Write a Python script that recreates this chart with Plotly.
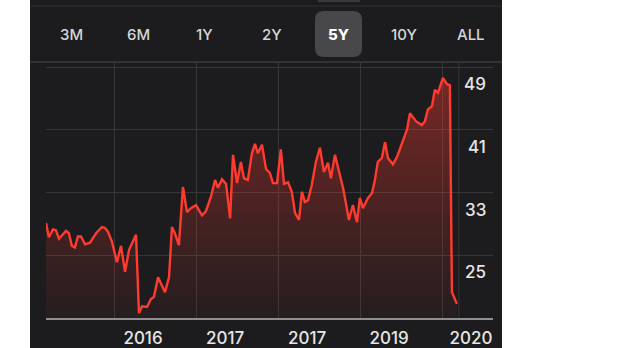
import plotly.graph_objects as go

# ---- data ----
dates = [
    "2015-03-04", "2015-03-17", "2015-04-04", "2015-04-17", "2015-05-01", "2015-06-01",
    "2015-06-14", "2015-06-27", "2015-07-11", "2015-07-24", "2015-08-07", "2015-08-25",
    "2015-09-16", "2015-10-13", "2015-11-08", "2015-11-21", "2015-12-05", "2015-12-23",
    "2016-01-14", "2016-02-01", "2016-02-19", "2016-03-08", "2016-04-08", "2016-04-21",
    "2016-05-05", "2016-05-27", "2016-06-13", "2016-06-27", "2016-07-15", "2016-08-01",
    "2016-08-15", "2016-09-02", "2016-09-15", "2016-09-28", "2016-10-16", "2016-11-03",
    "2016-11-21", "2016-12-09", "2016-12-31", "2017-01-27", "2017-02-13", "2017-03-08",
    "2017-03-26", "2017-04-08", "2017-04-26", "2017-05-14", "2017-06-01", "2017-06-14",
    "2017-07-02", "2017-07-19", "2017-08-02", "2017-08-19", "2017-09-06", "2017-09-20",
    "2017-10-03", "2017-10-21", "2017-11-08", "2017-11-25", "2017-12-09", "2017-12-27",
    "2018-01-13", "2018-01-27", "2018-02-14", "2018-03-03", "2018-03-17", "2018-04-04",
    "2018-04-17", "2018-04-30", "2018-05-14", "2018-05-31", "2018-06-18", "2018-07-06",
    "2018-07-24", "2018-08-11", "2018-08-24", "2018-09-11", "2018-10-03", "2018-10-17",
    "2018-11-03", "2018-11-12", "2018-11-30", "2018-12-18", "2018-12-31", "2019-01-14",
    "2019-02-05", "2019-02-23", "2019-03-08", "2019-03-21", "2019-04-08", "2019-04-22",
    "2019-05-05", "2019-05-27", "2019-06-14", "2019-07-06", "2019-07-29", "2019-08-11",
    "2019-09-07", "2019-10-03", "2019-10-17", "2019-10-30", "2019-11-17", "2019-11-30",
    "2019-12-14", "2020-01-05", "2020-01-23", "2020-02-05", "2020-02-14", "2020-03-07",
]
prices = [
    29.1, 27.3, 28.3, 28.2, 27.1, 28.1,
    27.8, 26.2, 26.0, 27.4, 27.4, 26.4,
    26.6, 27.8, 28.6, 28.5, 28.0, 26.7,
    24.1, 26.2, 22.9, 25.7, 27.6, 17.6,
    18.5, 18.4, 19.4, 19.7, 22.2, 21.1,
    20.3, 22.2, 28.6, 27.8, 26.3, 33.7,
    30.5, 31.0, 31.4, 30.1, 30.6, 32.5,
    34.6, 33.6, 34.7, 34.1, 29.7, 37.8,
    34.2, 36.9, 34.8, 34.6, 38.0, 39.2,
    38.0, 39.1, 36.0, 35.5, 34.2, 34.2,
    38.5, 34.1, 34.3, 33.1, 30.4, 29.5,
    33.1, 31.8, 32.0, 34.0, 36.9, 38.7,
    35.6, 36.8, 34.8, 37.8, 35.2, 33.6,
    31.0, 29.5, 31.4, 29.2, 32.3, 31.0,
    32.3, 32.9, 34.6, 36.9, 37.4, 39.4,
    37.4, 36.6, 37.5, 39.1, 41.0, 43.1,
    42.1, 41.6, 42.1, 43.6, 44.0, 46.1,
    45.7, 47.6, 46.8, 46.7, 20.3, 18.8,
]

y_ticks = [49, 41, 33, 25]
y_tick_labels = ["49", "41", "33", "25"]
x_tick_dates = ["2016-01-01", "2017-01-01", "2018-01-01", "2019-01-01", "2020-01-01"]
x_tick_labels = ["2016", "2017", "2017", "2019", "2020"]
now_line_date = "2020-03-16"
ranges = ["3M", "6M", "1Y", "2Y", "5Y", "10Y", "ALL"]
selected_range = "5Y"

# ---- layout geometry (pixels) ----
W, H = 620, 348
L, R, T, B = 46, 493, 62, 318
PW, PH = R - L, B - T


def px(x):
    return (x - L) / PW


def py(y):
    return (B - y) / PH


BG = "#1c1c1e"
GRID = "#363638"
RED = "#ff3b30"
FONT = "Inter, 'Open Sans', sans-serif"

fig = go.Figure()
fig.add_trace(go.Scatter(
    x=dates, y=prices, mode="lines",
    line=dict(color=RED, width=2.4),
    fill="tozeroy",
    fillgradient=dict(
        type="vertical",
        start=17, stop=49.6,
        colorscale=[[0, "rgba(255,59,48,0.04)"], [1, "rgba(255,59,48,0.42)"]],
    ),
    hoverinfo="skip",
    showlegend=False,
))

shapes = [
    # dark panel
    dict(type="rect", xref="paper", yref="paper", x0=px(30), x1=px(502), y0=py(348), y1=py(0),
         fillcolor=BG, line=dict(width=0), layer="below"),
    # thin line near top
    dict(type="line", xref="paper", yref="paper", x0=px(30), x1=px(502), y0=py(6), y1=py(6),
         line=dict(color="#2e2e30", width=1), layer="below"),
    # separator below range selector
    dict(type="line", xref="paper", yref="paper", x0=px(30), x1=px(502), y0=py(62), y1=py(62),
         line=dict(color="#3a3a3c", width=1.5), layer="below"),
    # partial element at very top
    dict(type="rect", xref="paper", yref="paper", x0=px(318), x1=px(360), y0=py(2), y1=py(-10),
         fillcolor="#3a3a3c", line=dict(width=0), layer="below"),
    # vertical "now" line
    dict(type="line", xref="x", yref="paper", x0=now_line_date, x1=now_line_date, y0=0, y1=1,
         line=dict(color=GRID, width=1), layer="below"),
]

# selected range button (rounded rect)
bx0, bx1, by0, by1, rr = 315, 362, 11, 57, 9
path = (f"M {px(bx0 + rr)},{py(by0)} L {px(bx1 - rr)},{py(by0)} "
        f"Q {px(bx1)},{py(by0)} {px(bx1)},{py(by0 + rr)} "
        f"L {px(bx1)},{py(by1 - rr)} Q {px(bx1)},{py(by1)} {px(bx1 - rr)},{py(by1)} "
        f"L {px(bx0 + rr)},{py(by1)} Q {px(bx0)},{py(by1)} {px(bx0)},{py(by1 - rr)} "
        f"L {px(bx0)},{py(by0 + rr)} Q {px(bx0)},{py(by0)} {px(bx0 + rr)},{py(by0)} Z")
shapes.append(dict(type="path", xref="paper", yref="paper", path=path,
                   fillcolor="#48484a", line=dict(width=0), layer="below"))

annotations = []
range_x = [71, 138, 204, 272, 338, 404, 471]
for lab, cx in zip(ranges, range_x):
    sel = lab == selected_range
    annotations.append(dict(
        text=lab, xref="paper", yref="paper", x=px(cx), y=py(34),
        xanchor="center", yanchor="middle", showarrow=False,
        font=dict(family=FONT, size=15, color="#ffffff" if sel else "#d6d6d6",
                  weight=800 if sel else 500),
    ))

for v, t in zip(y_ticks, y_tick_labels):
    annotations.append(dict(
        text=t, xref="paper", yref="y", x=px(488), y=v, yshift=-17,
        xanchor="right", yanchor="middle", showarrow=False,
        font=dict(family=FONT, size=17, color="#e6e6e6", weight=500),
    ))

fig.update_layout(
    width=W, height=H,
    margin=dict(l=L, r=W - R, t=T, b=H - B, pad=0, autoexpand=False),
    paper_bgcolor="#ffffff",
    plot_bgcolor=BG,
    shapes=shapes,
    annotations=annotations,
    showlegend=False,
    hovermode=False,
    xaxis=dict(
        type="date",
        range=["2015-03-04", "2020-08-15"],
        tickvals=x_tick_dates, ticktext=x_tick_labels,
        showgrid=True, gridcolor=GRID, gridwidth=1,
        showline=True, linecolor="#8e8e93", linewidth=1.5,
        ticks="", ticklabelshift=29, ticklabelstandoff=4,
        tickfont=dict(family=FONT, size=17, color="#e6e6e6", weight=500),
        zeroline=False, fixedrange=True, automargin=False,
    ),
    yaxis=dict(
        range=[17, 49.64],
        tickvals=y_ticks,
        showticklabels=False,
        showgrid=True, gridcolor=GRID, gridwidth=1,
        zeroline=False, showline=False, ticks="", fixedrange=True, automargin=False,
    ),
)

fig.write_html("out.html", config={"displayModeBar": False, "staticPlot": True})
